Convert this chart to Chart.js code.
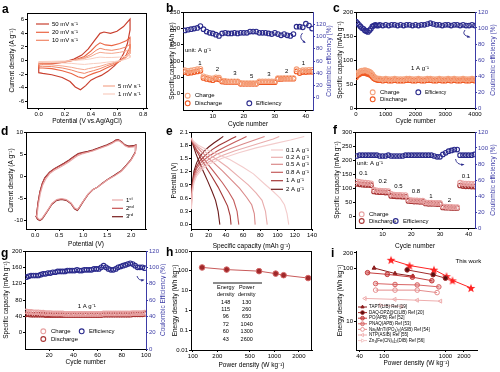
<!DOCTYPE html>
<html><head><meta charset="utf-8">
<script src="https://cdn.jsdelivr.net/npm/chart.js@4.4.1/dist/chart.umd.min.js"></script>
<style>html,body{margin:0;padding:0;background:#fff}body{position:relative;width:500px;height:372px;overflow:hidden}canvas{position:absolute}</style>
</head><body>
<script>
// ================= DATA =================
// --- a: CV at different scan rates (potential V, current A/g) ---
const aScanLabels = ['50 mV s⁻¹','20 mV s⁻¹','10 mV s⁻¹','5 mV s⁻¹','1 mV s⁻¹'];
const aTicksX = [0,0.2,0.4,0.6,0.8];
const aTicksY = [-6,-4,-2,0,2,4,6];
const cv50 = [[0,-0.6],[0.1,-0.5],[0.2,-0.2],[0.27,0.2],[0.33,0.8],[0.38,1.7],[0.43,3.0],[0.47,4.0],[0.5,4.2],[0.55,4.0],[0.6,4.3],[0.65,5.0],[0.7,6.1],[0.7,4.5],[0.68,2.5],[0.65,1.0],[0.62,0],[0.58,-0.8],[0.53,-1.6],[0.48,-2.2],[0.44,-2.5],[0.4,-2.9],[0.36,-3.7],[0.32,-4.3],[0.28,-3.9],[0.24,-3.1],[0.18,-2.5],[0.1,-2.1],[0.03,-1.9],[0,-1.8],[0,-0.6]];
const cv20 = [[0,-0.5],[0.1,-0.45],[0.2,-0.25],[0.28,0.1],[0.35,0.6],[0.4,1.4],[0.44,2.2],[0.47,2.6],[0.51,2.3],[0.56,2.2],[0.62,2.5],[0.67,2.9],[0.7,3.4],[0.7,2.0],[0.67,0.8],[0.63,0],[0.58,-0.6],[0.52,-1.1],[0.47,-1.6],[0.42,-1.9],[0.38,-2.2],[0.34,-2.6],[0.3,-2.4],[0.25,-1.9],[0.18,-1.5],[0.1,-1.2],[0.03,-1.1],[0,-1.1],[0,-0.5]];
const cv10 = [[0,-0.4],[0.1,-0.35],[0.2,-0.2],[0.28,0.05],[0.35,0.4],[0.4,0.9],[0.44,1.5],[0.47,1.8],[0.51,1.6],[0.56,1.5],[0.62,1.7],[0.67,2.0],[0.7,2.4],[0.7,1.4],[0.67,0.5],[0.63,0],[0.58,-0.4],[0.52,-0.8],[0.47,-1.2],[0.42,-1.5],[0.38,-1.7],[0.35,-1.9],[0.3,-1.7],[0.25,-1.4],[0.18,-1.1],[0.1,-0.9],[0.03,-0.85],[0,-0.85],[0,-0.4]];
const cv5 = [[0,-0.3],[0.1,-0.25],[0.2,-0.15],[0.28,0.05],[0.35,0.3],[0.4,0.6],[0.44,1.0],[0.47,1.2],[0.51,1.1],[0.56,1.05],[0.62,1.2],[0.67,1.4],[0.7,1.7],[0.7,1.0],[0.67,0.4],[0.63,0],[0.58,-0.3],[0.52,-0.55],[0.47,-0.85],[0.42,-1.05],[0.38,-1.2],[0.35,-1.35],[0.3,-1.2],[0.25,-1.0],[0.18,-0.8],[0.1,-0.65],[0.03,-0.6],[0,-0.6],[0,-0.3]];
const cv1 = [[0,-0.15],[0.1,-0.12],[0.2,-0.08],[0.28,0.02],[0.35,0.12],[0.4,0.25],[0.44,0.42],[0.47,0.5],[0.51,0.45],[0.56,0.45],[0.62,0.5],[0.67,0.6],[0.7,0.75],[0.7,0.45],[0.67,0.2],[0.63,0],[0.58,-0.15],[0.52,-0.25],[0.47,-0.38],[0.42,-0.45],[0.38,-0.52],[0.35,-0.58],[0.3,-0.52],[0.25,-0.42],[0.18,-0.35],[0.1,-0.3],[0.03,-0.28],[0,-0.28],[0,-0.15]];

// --- b: rate performance ---
const bCycles = [1,2,3,4,5,6,7,8,9,10,11,12,13,14,15,16,17,18,19,20,21,22,23,24,25,26,27,28,29,30,31,32,33,34,35,36,37,38,39,40,41,42];
const bCharge = [72,70,71,73,75,76,53,50,48,47,50,49,40,39,38,38,38,38,33,32,32,32,32,32,38,38,38,38,38,38,48,48,48,48,48,48,75,70,72,72,73,73];
const bDischarge = [66,63,64,66,68,70,48,45,43,41,45,44,37,36,36,36,36,36,30,30,30,30,30,30,35,35,35,35,35,35,45,45,46,46,46,46,68,63,66,66,67,67];
const bEff = [110,111,112,113,114,117,112,108,106,105,103,101,105,106,105,105,106,105,106,106,106,108,108,108,106,106,106,105,104,106,104,102,104,102,101,104,116,116,115,121,118,113];
const bRates = ['1','2','3','5','3','2','1'];
const bTicksX = [10,20,30,40], bTicksY = [0,50,100,150,200,250], bTicksY2 = [0,20,40,60,80,100,120];

// --- c: long cycling 1 A/g ---
const cCycles = [0,50,100,150,200,250,300,350,400,450,500,550,600,650,700,750,800,900,1000,1100,1200,1300,1400,1500,1600,1700,1800,1900,2000,2100,2200,2300,2400,2500,2600,2700,2800,2900,3000,3100,3200,3300,3400,3500,3600,3700,3800,3900,4000];
const cCharge = [70,73,75,77,78,78,79,78,77,76,74,70,66,63,62,61,61,60,61,60,60,61,60,60,60,61,61,60,60,61,60,60,61,61,60,60,61,60,60,61,60,61,60,60,61,60,60,61,60];
const cDischarge = [64,68,70,72,73,73,73,72,71,70,68,65,62,60,59,58,58,57,58,57,57,58,57,57,57,58,58,57,57,58,57,57,58,58,57,57,58,57,57,58,57,58,57,57,58,57,57,58,57];
const cEff = [108,106,104,102,100,99,97,96,95,97,99,102,103,104,103,103,104,103,104,103,104,104,103,104,103,104,104,103,104,103,104,104,105,106,105,104,104,103,104,104,103,104,104,103,104,103,103,104,103];
const cTicksX = [0,1000,2000,3000,4000], cTicksY = [0,50,100,150,200], cTicksY2 = [0,20,40,60,80,100,120];

// --- d: CV first three cycles ---
const dCycleLabels = ['1ˢᵗ','2ⁿᵈ','3ʳᵈ'];
const dTicksX = [0,0.5,1,1.5,2], dTicksY = [-10,-5,0,5,10];
const dCyc1 = [[0.04,-8.9],[0.07,-6.3],[0.11,-3.9],[0.16,-2.0],[0.22,-0.7],[0.3,0.5],[0.4,1.3],[0.5,1.9],[0.6,2.5],[0.7,3.2],[0.8,4.0],[0.9,4.7],[1.0,5.1],[1.1,5.4],[1.2,5.7],[1.3,6.1],[1.4,6.5],[1.5,6.9],[1.6,7.4],[1.68,7.9],[1.75,8.0],[1.82,7.4],[1.88,6.8],[1.95,6.5],[2.05,6.6],[2.1,6.9],[2.09,5.3],[2.0,3.6],[1.9,2.3],[1.8,1.1],[1.65,0.0],[1.5,-0.9],[1.4,-1.7],[1.3,-2.5],[1.2,-3.1],[1.1,-4.1],[1.0,-5.7],[0.92,-7.0],[0.88,-7.6],[0.82,-7.2],[0.75,-6.1],[0.65,-5.3],[0.55,-5.1],[0.45,-5.3],[0.35,-6.2],[0.25,-7.9],[0.15,-9.5],[0.1,-9.9],[0.06,-9.6],[0.03,-9.1],[0.04,-8.9]];
const dCyc2 = [[0.03,-8.9],[0.06,-6.1],[0.1,-3.6],[0.15,-1.7],[0.2,-0.5],[0.3,0.8],[0.4,1.6],[0.5,2.2],[0.6,2.8],[0.7,3.5],[0.8,4.3],[0.9,5.0],[1.0,5.3],[1.1,5.5],[1.2,5.8],[1.3,6.2],[1.4,6.6],[1.5,7.0],[1.6,7.5],[1.68,8.1],[1.74,8.2],[1.8,7.7],[1.87,7.0],[1.95,6.7],[2.05,6.8],[2.1,7.0],[2.09,5.4],[2.0,3.7],[1.9,2.4],[1.8,1.2],[1.65,0.1],[1.5,-0.9],[1.4,-1.7],[1.3,-2.5],[1.2,-3.1],[1.1,-4.2],[1.0,-5.8],[0.92,-7.1],[0.88,-7.7],[0.82,-7.3],[0.75,-6.2],[0.65,-5.4],[0.55,-5.2],[0.45,-5.4],[0.35,-6.3],[0.25,-8.0],[0.15,-9.6],[0.1,-10.0],[0.05,-9.7],[0.02,-9.1],[0.03,-8.9]];
const dCyc3 = [[0.03,-8.8],[0.06,-6.0],[0.1,-3.5],[0.15,-1.6],[0.2,-0.4],[0.3,0.9],[0.4,1.7],[0.5,2.3],[0.6,2.9],[0.7,3.6],[0.8,4.4],[0.9,5.1],[1.0,5.4],[1.1,5.6],[1.2,5.9],[1.3,6.3],[1.4,6.7],[1.5,7.1],[1.6,7.6],[1.68,8.2],[1.73,8.3],[1.8,7.8],[1.87,7.1],[1.95,6.8],[2.05,6.9],[2.1,7.1],[2.09,5.5],[2.0,3.8],[1.9,2.5],[1.8,1.3],[1.65,0.2],[1.5,-0.8],[1.4,-1.6],[1.3,-2.5],[1.2,-3.1],[1.1,-4.2],[1.0,-5.8],[0.92,-7.2],[0.88,-7.8],[0.82,-7.4],[0.75,-6.3],[0.65,-5.5],[0.55,-5.3],[0.45,-5.5],[0.35,-6.4],[0.25,-8.1],[0.15,-9.7],[0.1,-10.1],[0.05,-9.8],[0.02,-9.2],[0.03,-8.8]];

// --- e: charge/discharge curves (capacity mAh/g, potential V) ---
const eRateLabels = ['0.1 A g⁻¹','0.2 A g⁻¹','0.5 A g⁻¹','0.8 A g⁻¹','1 A g⁻¹','2 A g⁻¹'];
const eTicksX = [0,20,40,60,80,100,120,140], eTicksY = [0,0.3,0.6,0.9,1.2,1.5,1.8,2.1];
const eChg01 = [[0,0.35],[1,0.7],[3,0.95],[6,1.1],[12,1.25],[20,1.37],[35,1.5],[55,1.63],[75,1.74],[95,1.83],[115,1.92],[131,2.0]];
const eChg02 = [[0,0.4],[1,0.75],[3,1.0],[6,1.15],[12,1.3],[20,1.42],[35,1.56],[50,1.67],[65,1.76],[80,1.85],[95,1.94],[102,2.0]];
const eChg05 = [[0,0.45],[1,0.8],[3,1.05],[6,1.2],[12,1.36],[20,1.48],[30,1.6],[45,1.72],[60,1.83],[75,1.93],[85,2.0]];
const eChg08 = [[0,0.5],[1,0.85],[3,1.1],[6,1.27],[12,1.43],[20,1.55],[30,1.67],[40,1.77],[50,1.87],[58,1.94],[64,2.0]];
const eChg1 = [[0,0.55],[1,0.9],[3,1.15],[6,1.32],[10,1.45],[16,1.57],[24,1.7],[32,1.8],[40,1.88],[47,1.95],[52,2.0]];
const eChg2 = [[0,0.6],[1,0.95],[3,1.22],[6,1.4],[10,1.55],[15,1.67],[20,1.76],[26,1.85],[32,1.93],[37,2.0]];
const eDis01 = [[0,1.97],[2,1.9],[8,1.8],[18,1.7],[30,1.6],[45,1.47],[60,1.3],[72,1.15],[85,0.92],[95,0.75],[103,0.6],[108,0.45],[111,0.25],[113,0]];
const eDis02 = [[0,1.96],[2,1.88],[8,1.76],[18,1.62],[30,1.47],[42,1.3],[54,1.1],[66,0.9],[75,0.72],[82,0.55],[86,0.3],[88,0]];
const eDis05 = [[0,1.95],[2,1.86],[8,1.72],[16,1.57],[26,1.4],[36,1.22],[46,1.02],[56,0.82],[64,0.62],[70,0.45],[73,0.25],[74,0]];
const eDis08 = [[0,1.94],[2,1.84],[6,1.7],[12,1.55],[20,1.35],[28,1.15],[36,0.95],[43,0.75],[49,0.55],[53,0.3],[55,0]];
const eDis1 = [[0,1.93],[2,1.82],[6,1.67],[11,1.5],[17,1.3],[24,1.08],[31,0.85],[37,0.62],[42,0.42],[45,0.2],[46,0]];
const eDis2 = [[0,1.92],[2,1.8],[5,1.62],[9,1.42],[14,1.2],[19,0.98],[24,0.75],[28,0.55],[31,0.3],[33,0]];

// --- f: rate performance ---
const fCycles = [1,2,3,4,5,6,7,8,9,10,11,12,13,14,15,16,17,18,19,20,21,22,23,24,25,26,27,28,29,30,31,32,33,34,35,36,37,38,39,40,41,42];
const fCharge = [125,123,121,120,119,118,95,93,92,91,91,90,80,78,77,77,76,76,60,58,57,57,56,56,50,49,49,48,48,48,36,35,34,34,33,33,120,118,117,117,116,116];
const fDischarge = [116,114,113,112,112,111,89,87,86,86,85,85,73,72,71,71,70,70,55,54,53,53,52,52,46,45,45,45,44,44,32,31,31,30,30,30,110,108,107,107,106,106];
const fEff = [90,91,91,91,91,91,91,91,90,90,90,91,90,90,90,90,90,91,91,91,91,91,91,91,91,91,91,90,89,89,92,94,96,97,98,98,91,91,91,91,91,92];
const fRates = ['0.1','0.2','0.5','0.8','1','2','0.1'];
const fTicksX = [10,20,30,40], fTicksY = [0,50,100,150,200,250,300], fTicksY2 = [0,20,40,60,80,100,120];

// --- g: cycling 1 A/g ---
const gCycles = [1,3,5,7,9,11,13,15,17,19,21,23,25,27,29,31,33,35,37,39,41,43,45,47,49,51,53,55,57,59,61,63,65,67,69,71,73,75,77,79,81,83,85,87,89,91,93,95,97,99];
const gCharge = [52,51,51,50,50,50,49,49,48,48,48,47,47,47,47,47,46,46,46,46,46,46,46,46,46,46,46,46,46,46,46,46,47,47,47,47,47,47,47,47,47,47,47,47,48,48,48,48,48,49];
const gDischarge = [45,45,44,44,44,44,44,44,43,43,43,43,43,43,43,43,43,43,43,43,43,43,43,43,43,43,43,43,43,43,43,43,44,44,44,44,44,44,44,44,44,44,44,44,45,45,45,45,45,46];
const gEff = [88,89,90,90,90,90,91,92,92,93,93,94,94,95,95,95,95,96,96,96,96,97,96,96,97,97,97,97,98,98,98,100,102,100,98,97,97,98,100,101,102,103,104,105,104,102,100,100,100,99];
const gTicksX = [20,40,60,80,100], gTicksY = [0,40,80,120,160,200], gTicksY2 = [0,20,40,60,80,100,120];

// --- h: Ragone ---
const hPower = [130,260,650,1040,1300,2600];
const hEnergy = [148,115,96,72,60,43];
const hTicksX = [100,200,500,1000,2000], hTicksY = [0.01,0.1,1,10,100,1000];

// --- i: comparison ---
const iLabels = ['TAPT(LIB) Ref [19]','DAQ-DPZ@C(LIB) Ref [20]','PO(APB) Ref [52]','PNAQ(APB) Ref [53]','Na₃MnTi(PO₄)₃(ASIB) Ref [54]','NTP(ASIB) Ref [55]','Zn₃[Fe(CN)₆]₂(DIB) Ref [56]'];
const iTaptP = [69,151,295], iTaptE = [103,81,72];
const iDaqP = [238,630,1000], iDaqE = [95,77,66];
const iPoP = [54,113,290,600], iPoE = [84,78,69,59];
const iPnaqP = [73,151,347,780], iPnaqE = [52,50,49,45];
const iNaP = [73,151,347,730], iNaE = [39,39,39,35];
const iNtpP = [49,150,347,830], iNtpE = [27,26,25,24];
const iZnP = [88,198], iZnE = [20,19];
const iTicksX = [40,100,1000,2000], iTicksY = [10,100,200];

// ================= HELPERS =================
const FONT = "'Liberation Sans', Arial, Helvetica, sans-serif";
Chart.defaults.font.family = FONT;
Chart.defaults.color = '#000';
const BLUE = '#3c3ca6', NAVY = '#2a2a8c';

const P = (xs, ys) => xs.map((x, i) => ({x, y: ys[i]}));
const PP = arr => arr.map(p => ({x: p[0], y: p[1]}));
function lineDS(data, color, w){ return {data, showLine:true, borderColor:color, borderWidth:w||1, pointRadius:0, fill:false, tension:0}; }
function mkDS(data, color, axis, r, extra){ return Object.assign({data, showLine:false, borderColor:color, backgroundColor:'rgba(0,0,0,0)', pointBorderColor:color, pointBackgroundColor:'rgba(255,255,255,0)', pointBorderWidth:1.1, pointRadius:r||2.3, yAxisID:axis||'y'}, extra||{}); }

function sc(pos, o){
  const col = o.color || '#000';
  return {
    type: o.type || 'linear', position: pos, min: o.min, max: o.max,
    afterBuildTicks: a => { a.ticks = o.ticks.map(v => ({value: v})); },
    afterFit: a => { if (pos === 'bottom') a.height = o.size; else a.width = o.size; },
    ticks: {autoSkip:false, maxRotation:0, minRotation:0, padding:1, color:col, font:{size:6}, callback: o.fmt || (v => String(v))},
    grid: {display:true, drawOnChartArea:false, drawTicks:true, tickLength:2, color:col, lineWidth:1},
    border: {display:true, color:col, width:1},
    title: {display: !!o.title, text: o.title || '', color: col, font:{size:6.5}, padding: o.tpad || {top:0, bottom:0}}
  };
}

function starPath(g, x, y, r){ for (let k = 0; k < 10; k++){ const a = -Math.PI/2 + k*Math.PI/5; const rr = k % 2 ? r*0.42 : r; const px = x + rr*Math.cos(a), py = y + rr*Math.sin(a); k ? g.lineTo(px, py) : g.moveTo(px, py); } g.closePath(); }
function starCanvas(r, color){ const s = Math.ceil(2*r+2); const c = document.createElement('canvas'); c.width = s; c.height = s; const g = c.getContext('2d'); g.fillStyle = color; g.beginPath(); starPath(g, s/2, s/2+0.5, r); g.fill(); return c; }

function drawMk(ctx, shape, x, y, r, stroke, fill, lw){
  ctx.save(); ctx.lineWidth = lw || 1.1; ctx.strokeStyle = stroke; ctx.beginPath();
  if (shape === 'circle') ctx.arc(x, y, r, 0, Math.PI*2);
  else if (shape === 'tri'){ ctx.moveTo(x, y-r); ctx.lineTo(x+r*0.87, y+r*0.5); ctx.lineTo(x-r*0.87, y+r*0.5); ctx.closePath(); }
  else if (shape === 'triL'){ ctx.moveTo(x-r, y); ctx.lineTo(x+r*0.5, y-r*0.87); ctx.lineTo(x+r*0.5, y+r*0.87); ctx.closePath(); }
  else if (shape === 'triR'){ ctx.moveTo(x+r, y); ctx.lineTo(x-r*0.5, y-r*0.87); ctx.lineTo(x-r*0.5, y+r*0.87); ctx.closePath(); }
  else if (shape === 'star') starPath(ctx, x, y, r);
  if (fill){ ctx.fillStyle = fill; ctx.fill(); }
  if (shape !== 'star') ctx.stroke();
  ctx.restore();
}

function decoPlugin(box, items, frame){
  return {id:'deco', afterDraw(chart){
    const ctx = chart.ctx, ca = chart.chartArea, ox = box[0], oy = box[1];
    ctx.save();
    if (frame){
      ctx.strokeStyle = '#000'; ctx.lineWidth = 1; ctx.beginPath();
      ctx.moveTo(ca.left, Math.round(ca.top)+0.5); ctx.lineTo(ca.right, Math.round(ca.top)+0.5);
      if (frame === 'full'){ ctx.moveTo(Math.round(ca.right)-0.5, ca.top); ctx.lineTo(Math.round(ca.right)-0.5, ca.bottom); }
      ctx.stroke();
    }
    for (const it of items){
      if (it.t === 'text'){
        ctx.save();
        ctx.font = (it.bold ? 'bold ' : '') + (it.size || 6) + 'px ' + FONT;
        ctx.fillStyle = it.color || '#000'; ctx.textAlign = it.align || 'left'; ctx.textBaseline = 'middle';
        ctx.translate(it.x - ox, it.y - oy);
        if (it.rot) ctx.rotate(-Math.PI/2);
        ctx.fillText(it.s, 0, 0);
        ctx.restore();
      } else if (it.t === 'line'){
        ctx.save(); ctx.strokeStyle = it.color || '#000'; ctx.lineWidth = it.w || 1; ctx.beginPath();
        ctx.moveTo(it.x1 - ox, it.y1 - oy); ctx.lineTo(it.x2 - ox, it.y2 - oy); ctx.stroke(); ctx.restore();
      } else if (it.t === 'mk'){
        drawMk(ctx, it.shape || 'circle', it.x - ox, it.y - oy, it.r || 2.4, it.color, it.fill, it.lw);
      } else if (it.t === 'arrow'){
        const [x0, y0, cx, cy, x1, y1] = it.p.map((v, k) => v - (k % 2 ? oy : ox));
        ctx.save(); ctx.strokeStyle = it.color; ctx.fillStyle = it.color; ctx.lineWidth = 0.9;
        ctx.beginPath(); ctx.moveTo(x0, y0); ctx.quadraticCurveTo(cx, cy, x1, y1); ctx.stroke();
        const ang = Math.atan2(y1 - cy, x1 - cx), L = 2.6;
        ctx.beginPath(); ctx.moveTo(x1 + Math.cos(ang)*1, y1 + Math.sin(ang)*1);
        ctx.lineTo(x1 - L*Math.cos(ang - 0.5), y1 - L*Math.sin(ang - 0.5));
        ctx.lineTo(x1 - L*Math.cos(ang + 0.5), y1 - L*Math.sin(ang + 0.5));
        ctx.closePath(); ctx.fill(); ctx.restore();
      }
    }
    ctx.restore();
  }};
}

function makeChart(box, area, datasets, axes, items, frame){
  const cv = document.createElement('canvas');
  cv.width = box[2]; cv.height = box[3];
  Object.assign(cv.style, {left: box[0]+'px', top: box[1]+'px', width: box[2]+'px', height: box[3]+'px'});
  document.body.appendChild(cv);
  const sizes = {x: box[1]+box[3]-area[3], y: area[0]-box[0], y2: box[0]+box[2]-area[2]};
  const pos = {x:'bottom', y:'left', y2:'right'};
  const scales = {};
  for (const k in axes) scales[k] = sc(pos[k], Object.assign({size: sizes[k]}, axes[k]));
  new Chart(cv, {type:'scatter', data:{datasets},
    options:{responsive:false, animation:false, events:[],
      layout:{padding:{left:0, bottom:0, top: area[1]-box[1], right: axes.y2 ? 0 : (box[0]+box[2]-area[2])}},
      plugins:{legend:{display:false}, tooltip:{enabled:false}},
      scales},
    plugins:[decoPlugin(box, items, frame)]});
}
const letter = (s, x, y) => ({t:'text', s, x, y, size:12, bold:true});
const f1 = v => v.toFixed(1);

// ================= PANEL a =================
const A_COL = ['#c9402f','#ea6543','#f08566','#f4a78e','#f8cdbf'];
makeChart([0,0,166,128],[27,13,147,108],
  [lineDS(PP(cv1),A_COL[4],1), lineDS(PP(cv5),A_COL[3],1), lineDS(PP(cv10),A_COL[2],1), lineDS(PP(cv20),A_COL[1],1.1), lineDS(PP(cv50),A_COL[0],1.2)],
  {x:{min:-0.09,max:0.83,ticks:aTicksX,fmt:f1,title:'Potential (V vs.Ag/AgCl)',tpad:{top:0,bottom:3}},
   y:{min:-7,max:7,ticks:aTicksY,title:'Current density (A g⁻¹)',tpad:{top:8,bottom:0}}},
  [letter('a',2,10),
   {t:'line',x1:36,y1:24,x2:49,y2:24,color:A_COL[0],w:1.2},{t:'text',x:52,y:24,s:aScanLabels[0]},
   {t:'line',x1:36,y1:32.3,x2:49,y2:32.3,color:A_COL[1],w:1.2},{t:'text',x:52,y:32.3,s:aScanLabels[1]},
   {t:'line',x1:36,y1:40.3,x2:49,y2:40.3,color:A_COL[2],w:1.2},{t:'text',x:52,y:40.3,s:aScanLabels[2]},
   {t:'line',x1:103,y1:86,x2:115,y2:86,color:A_COL[3],w:1.2},{t:'text',x:118,y:86,s:aScanLabels[3]},
   {t:'line',x1:103,y1:94,x2:115,y2:94,color:A_COL[4],w:1.2},{t:'text',x:118,y:94,s:aScanLabels[4]}], 'full');

// ================= PANEL b =================
const B_CH = '#f5a27c', B_DIS = '#ef5a24';
makeChart([164,0,171,128],[183,12,313,110],
  [mkDS(P(bCycles,bCharge),B_CH), mkDS(P(bCycles,bDischarge),B_DIS), mkDS(P(bCycles,bEff),NAVY,'y2')],
  {x:{min:0.4,max:42.3,ticks:bTicksX,title:'Cycle number',tpad:{top:0,bottom:0}},
   y:{min:-50,max:250,ticks:bTicksY,title:'Specific capacity (mAh g⁻¹)',tpad:{top:4.4,bottom:0}},
   y2:{min:-20,max:140,ticks:bTicksY2,color:BLUE}},
  [letter('b',166,9),
   {t:'text',x:185,y:50,s:'unit: A g⁻¹'},
   {t:'text',x:200,y:63.3,s:bRates[0],align:'center'},{t:'text',x:217.3,y:69,s:bRates[1],align:'center'},
   {t:'text',x:235,y:73.3,s:bRates[2],align:'center'},{t:'text',x:251.7,y:76.7,s:bRates[3],align:'center'},
   {t:'text',x:269,y:74.3,s:bRates[4],align:'center'},{t:'text',x:286.7,y:71,s:bRates[5],align:'center'},
   {t:'text',x:303.3,y:63.3,s:bRates[6],align:'center'},
   {t:'arrow',p:[302.5,33,298,38,305,42.5],color:NAVY},
   {t:'mk',x:187.7,y:95.7,color:B_CH},{t:'text',x:195,y:95.7,s:'Charge'},
   {t:'mk',x:187.7,y:103.3,color:B_DIS},{t:'text',x:195,y:103.3,s:'Discharge'},
   {t:'mk',x:249.3,y:103.3,color:NAVY},{t:'text',x:256,y:103.3,s:'Efficiency'},
   {t:'text',x:329,y:61,s:'Coulombic efficiency (%)',color:BLUE,size:6.5,rot:true,align:'center'}], 'top');

// ================= PANEL c =================
makeChart([333,0,167,128],[356,12,475,108],
  [mkDS(P(cCycles,cCharge),B_CH), mkDS(P(cCycles,cDischarge),B_DIS), mkDS(P(cCycles,cEff),NAVY,'y2')],
  {x:{min:0,max:4000,ticks:cTicksX,title:'Cycle number',tpad:{top:0,bottom:2.4}},
   y:{min:0,max:200,ticks:cTicksY,title:'Specific capacity (mAh g⁻¹)',tpad:{top:3.6,bottom:0}},
   y2:{min:0,max:120,ticks:cTicksY2,color:BLUE}},
  [letter('c',333,9),
   {t:'text',x:420,y:68,s:'1 A g⁻¹',align:'center'},
   {t:'arrow',p:[465,30,461,35,469.5,37],color:NAVY},
   {t:'mk',x:372.7,y:92.3,color:B_CH},{t:'text',x:380,y:92.3,s:'Charge'},
   {t:'mk',x:372.7,y:99.3,color:B_DIS},{t:'text',x:380,y:99.3,s:'Discharge'},
   {t:'mk',x:418.3,y:92.3,color:NAVY},{t:'text',x:425,y:92.3,s:'Efficiency',size:5},
   {t:'text',x:493.5,y:60,s:'Coulombic efficiency (%)',color:BLUE,size:6.5,rot:true,align:'center'}], 'top');

// ================= PANEL d =================
const D_COL = ['#e8a6a6','#c65050','#781c1c'];
makeChart([0,122,166,128],[26,132,146,229],
  [lineDS(PP(dCyc1),D_COL[0],1.1), lineDS(PP(dCyc2),D_COL[1],1.1), lineDS(PP(dCyc3),D_COL[2],1.1)],
  {x:{min:-0.19,max:2.31,ticks:dTicksX,fmt:f1,title:'Potential (V)',tpad:{top:0,bottom:2}},
   y:{min:-12,max:10,ticks:dTicksY,title:'Current density (A g⁻¹)',tpad:{top:7.8,bottom:0}}},
  [letter('d',1,132),
   {t:'line',x1:112,y1:200,x2:123,y2:200,color:D_COL[0],w:1.2},{t:'text',x:126,y:200,s:dCycleLabels[0]},
   {t:'line',x1:112,y1:208.3,x2:123,y2:208.3,color:D_COL[1],w:1.2},{t:'text',x:126,y:208.3,s:dCycleLabels[1]},
   {t:'line',x1:112,y1:216.7,x2:123,y2:216.7,color:D_COL[2],w:1.2},{t:'text',x:126,y:216.7,s:dCycleLabels[2]}], 'full');

// ================= PANEL e =================
const E_COL = ['#f3cccc','#e9adad','#da8a8a','#c45c5c','#a43838','#6c1c1c'];
const eChg = [eChg01,eChg02,eChg05,eChg08,eChg1,eChg2], eDis = [eDis01,eDis02,eDis05,eDis08,eDis1,eDis2];
const eSets = [];
for (let k = 0; k < 6; k++){ eSets.push(lineDS(PP(eChg[k]),E_COL[k],1.1)); eSets.push(lineDS(PP(eDis[k]),E_COL[k],1.1)); }
const eItems = [letter('e',166,132)];
for (let k = 0; k < 6; k++){
  const yy = [150,157.3,164.3,172.3,180.7,189.3][k];
  eItems.push({t:'line',x1:271,y1:yy,x2:283,y2:yy,color:E_COL[k],w:1.2});
  eItems.push({t:'text',x:286,y:yy,s:eRateLabels[k]});
}
makeChart([164,122,171,128],[191,132,312,229], eSets,
  {x:{min:-0.5,max:140,ticks:eTicksX,title:'Specific capacity (mAh g⁻¹)',tpad:{top:0,bottom:0}},
   y:{min:-0.1,max:2.1,ticks:eTicksY,fmt:f1,title:'Potential (V)',tpad:{top:6.4,bottom:0}}},
  eItems, 'full');

// ================= PANEL f =================
const F_CH = '#e8a2a2', F_DIS = '#a83434';
makeChart([333,122,167,128],[355,132,475,228],
  [mkDS(P(fCycles,fCharge),F_CH), mkDS(P(fCycles,fDischarge),F_DIS), mkDS(P(fCycles,fEff),NAVY,'y2')],
  {x:{min:0.4,max:42.2,ticks:fTicksX,title:'Cycle number',tpad:{top:0,bottom:0}},
   y:{min:-41,max:300,ticks:fTicksY,title:'Specific capacity (mAh g⁻¹)',tpad:{top:0.4,bottom:0}},
   y2:{min:0,max:120,ticks:fTicksY2,color:BLUE}},
  [letter('f',333,131),
   {t:'text',x:357,y:163.3,s:'unit: A g⁻¹'},
   {t:'text',x:363.3,y:173.3,s:fRates[0],align:'center'},{t:'text',x:382.7,y:181,s:fRates[1],align:'center'},
   {t:'text',x:398.3,y:186,s:fRates[2],align:'center'},{t:'text',x:416,y:191.7,s:fRates[3],align:'center'},
   {t:'text',x:431,y:196.7,s:fRates[4],align:'center'},{t:'text',x:449.3,y:200.7,s:fRates[5],align:'center'},
   {t:'text',x:466,y:176,s:fRates[6],align:'center'},
   {t:'arrow',p:[455.5,159,456.5,165,463.5,164.5],color:NAVY},
   {t:'mk',x:361.7,y:214.3,color:F_CH},{t:'text',x:369,y:214.3,s:'Charge'},
   {t:'mk',x:361.7,y:221,color:F_DIS},{t:'text',x:369,y:221,s:'Discharge'},
   {t:'mk',x:395.7,y:221,color:NAVY},{t:'text',x:403,y:221,s:'Efficiency'},
   {t:'text',x:493.5,y:180,s:'Coulombic efficiency (%)',color:BLUE,size:6.5,rot:true,align:'center'}], 'top');

// ================= PANEL g =================
makeChart([0,244,166,128],[25,251,146,349],
  [mkDS(P(gCycles,gCharge),F_CH), mkDS(P(gCycles,gDischarge),F_DIS), mkDS(P(gCycles,gEff),NAVY,'y2')],
  {x:{min:0,max:100,ticks:gTicksX,title:'Cycle number',tpad:{top:0,bottom:6}},
   y:{min:-40,max:200,ticks:gTicksY,title:'Specific capacity (mAh g⁻¹)',tpad:{top:2.8,bottom:0}},
   y2:{min:0,max:120,ticks:gTicksY2,color:BLUE}},
  [letter('g',1,254),
   {t:'text',x:86.7,y:306,s:'1 A g⁻¹',align:'center'},
   {t:'arrow',p:[137,276,138.5,281,143.5,280],color:NAVY},
   {t:'mk',x:43.3,y:331.3,color:F_CH},{t:'text',x:51,y:331.3,s:'Charge'},
   {t:'mk',x:43.3,y:339,color:F_DIS},{t:'text',x:51,y:339,s:'Discharge'},
   {t:'mk',x:81.7,y:331.3,color:NAVY},{t:'text',x:89,y:331.3,s:'Efficiency'},
   {t:'text',x:163.3,y:300,s:'Coulombic Efficiency (%)',color:BLUE,size:6.5,rot:true,align:'center'}], 'top');

// ================= PANEL h =================
const hItems = [letter('h',166,253),
  {t:'line',x1:213,y1:283,x2:262,y2:283,color:'#666',w:1.4},
  {t:'text',x:225.7,y:287.5,s:'Energy',align:'center',size:5.5},{t:'text',x:225.7,y:294.7,s:'density',align:'center',size:5.5},
  {t:'text',x:246.7,y:287.5,s:'Power',align:'center',size:5.5},{t:'text',x:246.7,y:294.7,s:'density',align:'center',size:5.5}];
const hRowY = [302.3,309.7,316.7,324,331.3,339];
for (let k = 0; k < hPower.length; k++){
  hItems.push({t:'text',x:225.7,y:hRowY[k],s:String(hEnergy[k]),align:'center',size:5.5});
  hItems.push({t:'text',x:246.7,y:hRowY[k],s:String(hPower[k]),align:'center',size:5.5});
}
makeChart([164,244,171,128],[191,251,312,350],
  [{data:P(hPower,hEnergy), showLine:true, borderColor:'#c85a5a', borderWidth:1, pointRadius:2.8, pointBackgroundColor:'#a0282a', pointBorderColor:'#d46a6a', pointBorderWidth:1}],
  {x:{type:'logarithmic',min:95,max:2900,ticks:hTicksX,title:'Power density (W kg⁻¹)',tpad:{top:0,bottom:3}},
   y:{type:'logarithmic',min:0.01,max:1000,ticks:hTicksY,title:'Energy density (Wh kg⁻¹)',tpad:{top:7,bottom:0}}},
  hItems, 'full');

// ================= PANEL i =================
const I_COL = ['#8b1c1c','#a02a2a','#c43c3c','#d86464','#e48c8c','#eeadad','#f3c6c6'];
const STAR = '#ff2222';
const starImg = starCanvas(4.6, STAR);
const iSets = [
  lineDS(P(iZnP,iZnE),I_COL[6],1), lineDS(P(iNtpP,iNtpE),I_COL[5],1), lineDS(P(iNaP,iNaE),I_COL[4],1),
  lineDS(P(iPnaqP,iPnaqE),I_COL[3],1), lineDS(P(iPoP,iPoE),I_COL[2],1), lineDS(P(iDaqP,iDaqE),I_COL[1],1), lineDS(P(iTaptP,iTaptE),I_COL[0],1),
  lineDS(P(hPower,hEnergy),STAR,1)
];
const iStyles = [['triangle',90,'rgba(255,255,255,0)'],['triangle',-90,'rgba(255,255,255,0)'],['circle',0,'rgba(255,255,255,0)'],['circle',0,'rgba(216,100,100,0.35)'],['circle',0,'rgba(196,60,60,0.55)'],['circle',0,'#5a1010'],['triangle',0,'#8b1c1c']];
for (let k = 0; k < 7; k++){ Object.assign(iSets[k], {pointRadius:2.3, pointStyle:iStyles[k][0], pointRotation:iStyles[k][1], pointBackgroundColor:iStyles[k][2], pointBorderColor:iSets[k].borderColor, pointBorderWidth:1}); }
Object.assign(iSets[7], {pointRadius:4, pointStyle:starImg});
const iItems = [letter('i',331,254), {t:'text',x:455.5,y:261,s:'This work',size:6}];
const iShape = [['tri','#8b1c1c'],['circle','#5a1010'],['circle','rgba(196,60,60,0.55)'],['circle','rgba(216,100,100,0.35)'],['circle',null],['triL',null],['triR',null]];
for (let k = 0; k < 7; k++){
  const yy = 307 + k*5.6, col = I_COL[k];
  iItems.push({t:'line',x1:358,y1:yy,x2:367,y2:yy,color:col,w:1});
  iItems.push({t:'mk',x:362.5,y:yy,r:1.9,shape:iShape[k][0],color:col,fill:iShape[k][1]||'#fff',lw:0.9});
  iItems.push({t:'text',x:369,y:yy,s:iLabels[k],size:4.5});
}
makeChart([331,244,169,128],[356,251,477,350], iSets,
  {x:{type:'logarithmic',min:35,max:3260,ticks:iTicksX,title:'Power density (W kg⁻¹)',tpad:{top:0,bottom:5}},
   y:{type:'logarithmic',min:2.8,max:218,ticks:iTicksY,title:'Energy density (Wh kg⁻¹)',tpad:{top:5.1,bottom:0}}},
  iItems, null);
</script>
</body></html>
